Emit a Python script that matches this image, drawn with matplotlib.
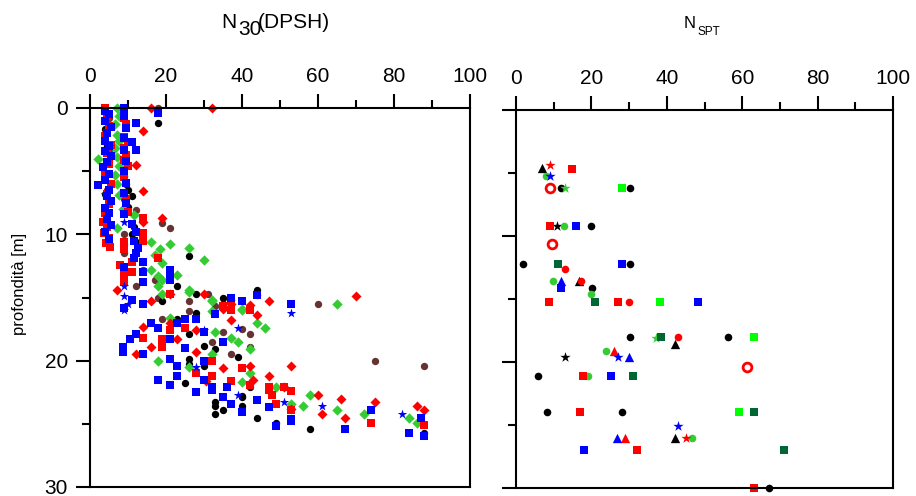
import matplotlib
matplotlib.use("Agg")
import matplotlib.pyplot as plt

plt.rcParams['font.family'] = ['Liberation Sans', 'DejaVu Sans']

# ---- N30 (DPSH) data: (value, depth m) ----
red_d_x = [32, 16, 14, 12, 14, 19, 14, 7, 16, 30, 21, 37, 42, 47, 70, 35, 44, 37, 14, 21, 28, 23, 16, 28, 12,
           35, 42, 53, 47, 30.5, 43, 51, 60, 66, 75, 86, 88, 61, 67, 53]
red_d_z = [0, 0, 1.8, 4.5, 6.6, 8.7, 9.0, 14.4, 15.3, 14.7, 14.7, 15.5, 15.6, 15.3, 14.9, 15.9, 16.4, 16.8, 17.3, 17.0,
           17.6, 18.3, 18.9, 19.3, 19.5, 20.6, 20.4, 20.4, 21.2, 21.6, 21.5, 22.1, 22.7, 23.0, 23.3, 23.6, 23.9, 24.2,
           24.5, 23.8]

red_s_x = [4, 4.5, 5, 4, 5.5, 4.5, 5, 4, 5.5, 4.5, 5, 4, 3.5, 4.5, 3.8, 5, 4.2, 5.3,
           9, 9.5, 9, 10, 9, 9.5, 9, 10, 9, 9.5, 10,
           14, 14, 14, 9, 9, 8, 9, 11, 11, 9, 18, 21, 37, 42, 37, 35, 19, 19, 21, 25, 14,
           28, 32, 32, 37, 40, 42, 47, 48, 49, 47, 53, 74, 88, 53, 51]
red_s_z = [0, 0.6, 1.4, 2.2, 2.9, 3.6, 4.4, 5.2, 6.0, 6.8, 7.6, 8.3, 9.0, 9.4, 9.9, 10.3, 10.7, 11.0,
           0.8, 1.3, 2.3, 2.7, 3.2, 3.7, 4.1, 4.6, 5.5, 7.2, 8.2,
           8.7, 9.9, 10.5, 10.6, 11.2, 12.4, 13.2, 12.2, 13.0, 13.8, 11.9, 14.7, 15.2, 16.0, 16.0, 15.7, 18.3, 18.9,
           17.6, 17.4, 18.2,
           21.0, 20.0, 21.2, 21.6, 20.6, 21.9, 22.1, 22.7, 23.4, 22.3, 22.4, 24.9, 25.1, 23.9, 22.1]

blue_s_x = [4, 5, 4, 5.5, 4.5, 4, 5, 4, 5.5, 4.5, 3.5, 5, 4, 2, 5, 4.5, 5.5, 4, 5, 4.5, 5.5, 4, 5,
            9, 9, 9.5, 9, 9, 9.5, 9, 9.5, 9, 9.5, 9,
            18, 12, 11, 12, 11, 12, 11.5, 12.5, 12, 11.5, 14, 14, 14, 9, 21, 21, 14, 9, 11, 21,
            40, 37, 44, 33, 25, 28, 16, 18, 23, 12, 10.5, 21, 8.7, 8.7, 14, 25, 21, 23, 18, 21, 23,
            28, 32, 35, 37, 30, 30, 30, 35, 36, 32, 44, 47, 40, 49, 53, 53, 53, 67, 74, 84, 87, 88]
blue_s_z = [0.2, 0.5, 1.0, 1.5, 2.0, 2.6, 3.0, 3.4, 3.8, 4.3, 4.7, 5.2, 5.7, 6.1, 6.5, 7.0, 7.4, 7.9, 8.3, 8.8,
            9.3, 9.8, 10.4,
            0, 0.6, 1.6, 2.4, 3.3, 4.2, 5.0, 5.9, 6.7, 7.5, 8.4,
            0.4, 1.2, 2.7, 3.3, 9.2, 9.8, 10.5, 11.1, 11.5, 11.9, 12.2, 13.0, 13.8, 12.6, 12.8, 13.6, 15.5, 15.8,
            15.2, 13.0,
            15.3, 15.0, 14.8, 16.3, 16.7, 16.7, 17.0, 17.4, 17.0, 17.9, 18.3, 18.3, 18.9, 19.3, 19.5, 19.0, 19.9,
            20.4, 21.5, 21.9, 21.2,
            22.5, 22.3, 22.9, 23.4, 21.5, 20.0, 17.7, 18.5, 22.1, 22.1, 23.1, 23.7, 24.1, 25.2, 24.8, 24.6, 15.5,
            25.4, 23.9, 25.7, 24.5, 26.0]

blue_st_x = [9, 9, 10, 9, 30, 28, 39, 39, 51, 53, 61, 82, 5, 4, 9]
blue_st_z = [14.1, 14.9, 15.5, 16.0, 17.6, 20.5, 17.4, 22.7, 23.3, 16.2, 23.6, 24.2, 3.0, 6.8, 9.0]

green_x = [7, 7.5, 6.5, 7, 7.5, 6.5, 7, 2, 7.5, 6.5, 7, 7.5, 8.7, 11.5, 7,
           16, 21, 26, 18.5, 16, 19, 17, 18, 19, 18, 19, 23, 26, 30, 26, 32, 40, 32, 32, 21, 40,
           44, 46, 33, 37, 39, 42, 32, 42, 40, 18, 26, 49, 53, 56, 58, 65, 72, 84, 86, 65]
green_z = [0, 0.6, 1.3, 2.1, 2.6, 3.2, 3.9, 4.0, 4.6, 5.3, 6.0, 6.9, 8.0, 8.5, 9.5,
           10.6, 10.8, 11.1, 11.2, 12.8, 12.3, 11.6, 13.3, 13.6, 14.1, 14.7, 13.2, 14.4, 12.0, 14.6, 15.3, 16.0,
           15.2, 16.1, 16.6, 15.9,
           17.0, 17.4, 17.7, 18.2, 18.5, 19.1, 19.5, 21.0, 21.7, 20.0, 20.5, 22.1, 23.4, 23.6, 22.7, 23.9, 24.2,
           24.5, 24.9, 15.5]

black_x = [18, 4, 4.5, 5, 9, 9.5, 10, 11, 10, 4, 11.5, 11, 12, 26, 23, 19, 28, 35, 35, 37, 44, 44,
           23, 28, 26, 30, 33, 39, 26, 26, 30, 42, 40, 25, 33, 33, 33, 35, 40, 40, 44, 49, 58, 88]
black_z = [1.2, 1.7, 3.0, 4.1, 5.4, 6.0, 6.5, 7.0, 7.8, 6.8, 9.4, 10.0, 10.6, 11.7, 14.1, 15.3, 14.7, 15.0,
           15.5, 15.2, 14.4, 14.8, 16.7, 16.2, 17.9, 18.8, 19.1, 19.7, 19.9, 20.3, 20.4, 22.1, 22.8, 21.8,
           23.3, 23.6, 24.2, 23.9, 22.9, 23.6, 24.5, 24.9, 25.4, 25.7]

brown_x = [18, 5, 5, 4.5, 9, 12, 19, 21, 9, 9, 9, 14, 12, 17, 18, 26, 31, 33, 19, 26, 35, 40, 42, 32,
           42, 37, 60, 75, 88]
brown_z = [0, 0.8, 3.3, 6.5, 7.2, 8.1, 9.1, 9.5, 10.0, 10.8, 11.5, 12.8, 14.1, 13.6, 15.0, 15.3, 14.7,
           15.7, 16.7, 16.1, 17.7, 17.5, 17.9, 18.5, 18.9, 19.5, 15.5, 20.0, 20.4]

# ---- NSPT data ----
spt_k_o_x = [12, 30.2, 20, 1.9, 30.2, 20.2, 30.2, 56.3, 5.9, 8.1, 28, 67.1]
spt_k_o_z = [6.2, 6.2, 9.2, 12.2, 12.2, 14.1, 18, 18, 21.1, 24, 24, 30]
spt_k_t_x = [6.8, 16.8, 42.2, 42.2]
spt_k_t_z = [4.6, 13.6, 18.6, 26]
spt_k_st_x = [11, 13]
spt_k_st_z = [9.2, 19.6]
spt_r_st_x = [9, 45.1]
spt_r_st_z = [4.4, 26]
spt_r_s_x = [14.8, 9, 8.8, 27, 17.8, 17, 32, 63.1]
spt_r_s_z = [4.7, 9.2, 15.2, 15.2, 21.1, 24, 27, 30]
spt_r_o_x = [13, 17.2, 30, 43]
spt_r_o_z = [12.6, 13.6, 15.2, 18]
spt_r_t_x = [26, 29]
spt_r_t_z = [19.1, 26]
spt_r_ring_x = [9, 9.5, 61.2]
spt_r_ring_z = [6.2, 10.6, 20.4]
spt_b_st_x = [9, 27.1, 43]
spt_b_st_z = [5.2, 19.6, 25.1]
spt_b_t_x = [12, 30, 26.8]
spt_b_t_z = [13.6, 19.6, 26]
spt_b_s_x = [16, 28, 48.3, 25.1, 18, 12]
spt_b_s_z = [9.2, 12.2, 15.2, 21.1, 27, 14.1]
spt_g_o_x = [8, 12.8, 9.9, 20, 23.9, 19.2, 46.6]
spt_g_o_z = [5.2, 9.2, 13.6, 14.6, 19.1, 21.1, 26]
spt_g_st_x = [13, 37.1]
spt_g_st_z = [6.2, 18.1]
spt_lg_x = [28, 38.2, 63.1, 59.2]
spt_lg_z = [6.2, 15.2, 18, 24]
spt_dg_x = [11.2, 21, 38.4, 31, 63.1, 71.1]
spt_dg_z = [12.2, 15.2, 18, 21.1, 24, 27]

RED = '#ff0000'
BLUE = '#0000ff'
GREEN = '#33cc33'
LGREEN = '#00ff00'
DGREEN = '#006633'
BROWN = '#663333'
BLACK = '#000000'

fig = plt.figure(figsize=(9.16, 4.96), dpi=100)
W, H = 916, 496
ax1 = fig.add_axes([90 / W, 1 - 487 / H, 380 / W, 379 / H])
ax2 = fig.add_axes([516 / W, 1 - 488 / H, 377 / W, 378 / H])


def style(ax, labels):
    ax.set_xlim(0, 100)
    ax.set_ylim(30, 0)
    ax.xaxis.tick_top()
    ax.set_xticks(range(0, 101, 20))
    ax.set_xticks(range(10, 100, 20), minor=True)
    ax.set_yticks([0, 10, 20, 30])
    ax.set_yticks([5, 15, 25], minor=True)
    if not labels:
        ax.set_yticklabels([])
    for s in ax.spines.values():
        s.set_linewidth(1.5)
    ax.tick_params(which='major', direction='out', length=10, width=1.5, labelsize=15, pad=6)
    ax.tick_params(which='minor', direction='out', length=5.5, width=1.5)


style(ax1, True)
style(ax2, False)

kw = dict(linewidths=0, clip_on=False)
ax1.scatter(brown_x, brown_z, s=28, c=BROWN, marker='o', **kw)
ax1.scatter(black_x, black_z, s=28, c=BLACK, marker='o', **kw)
ax1.scatter(green_x, green_z, s=28, c=GREEN, marker='D', **kw)
ax1.scatter(red_s_x, red_s_z, s=26, c=RED, marker='s', **kw)
ax1.scatter(red_d_x, red_d_z, s=26, c=RED, marker='D', **kw)
ax1.scatter(blue_s_x, blue_s_z, s=26, c=BLUE, marker='s', **kw)
ax1.scatter(blue_st_x, blue_st_z, s=50, c=BLUE, marker='*', **kw)

ax2.scatter(spt_k_o_x, spt_k_o_z, s=30, c=BLACK, marker='o', **kw)
ax2.scatter(spt_k_t_x, spt_k_t_z, s=45, c=BLACK, marker='^', **kw)
ax2.scatter(spt_k_st_x, spt_k_st_z, s=60, c=BLACK, marker='*', **kw)
ax2.scatter(spt_g_o_x, spt_g_o_z, s=30, c=GREEN, marker='o', **kw)
ax2.scatter(spt_g_st_x, spt_g_st_z, s=60, c=GREEN, marker='*', **kw)
ax2.scatter(spt_lg_x, spt_lg_z, s=26, c=LGREEN, marker='s', **kw)
ax2.scatter(spt_dg_x, spt_dg_z, s=26, c=DGREEN, marker='s', **kw)
ax2.scatter(spt_r_s_x, spt_r_s_z, s=26, c=RED, marker='s', **kw)
ax2.scatter(spt_r_o_x, spt_r_o_z, s=30, c=RED, marker='o', **kw)
ax2.scatter(spt_r_t_x, spt_r_t_z, s=45, c=RED, marker='^', **kw)
ax2.scatter(spt_r_st_x, spt_r_st_z, s=60, c=RED, marker='*', **kw)
ax2.scatter(spt_r_ring_x, spt_r_ring_z, s=40, facecolors='white', edgecolors=RED, linewidths=2,
            marker='o', clip_on=False)
ax2.scatter(spt_b_s_x, spt_b_s_z, s=26, c=BLUE, marker='s', **kw)
ax2.scatter(spt_b_t_x, spt_b_t_z, s=45, c=BLUE, marker='^', **kw)
ax2.scatter(spt_b_st_x, spt_b_st_z, s=60, c=BLUE, marker='*', **kw)

# titles
fig.text(221 / W, 1 - 28 / H, 'N', fontsize=15, va='baseline', ha='left')
fig.text(238 / W, 1 - 35 / H, '30', fontsize=15, va='baseline', ha='left')
fig.text(258 / W, 1 - 28 / H, '(DPSH)', fontsize=15, va='baseline', ha='left')
fig.text(684 / W, 1 - 28 / H, 'N', fontsize=12, va='baseline', ha='left')
fig.text(698 / W, 1 - 35 / H, 'SPT', fontsize=8.5, va='baseline', ha='left')

fig.text(20 / W, 1 - 284 / H, 'profondità [m]', fontsize=12, rotation=90, ha='center', va='center')

fig.savefig('out.png', dpi=100)
